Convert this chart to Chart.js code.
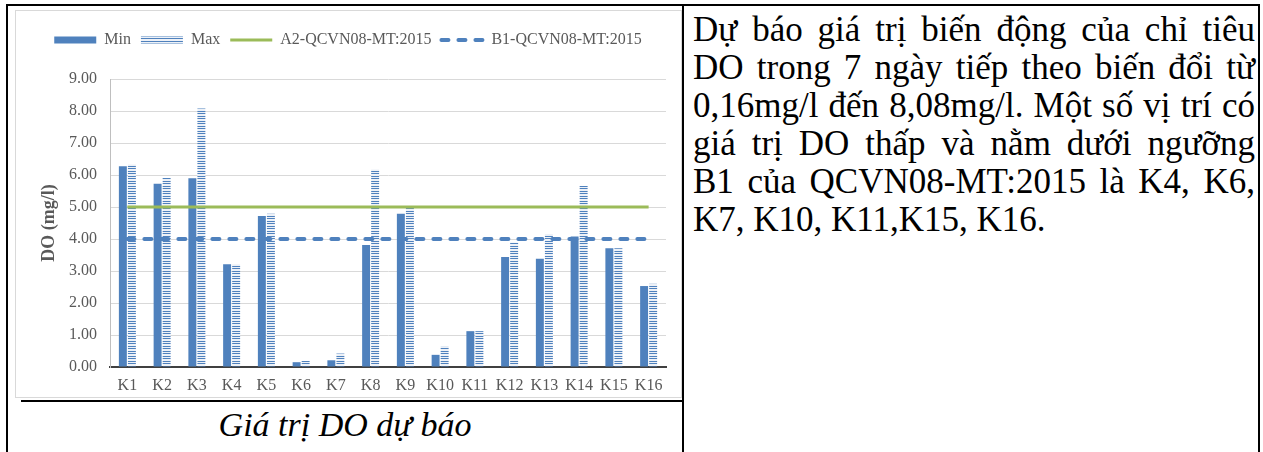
<!DOCTYPE html>
<html>
<head>
<meta charset="utf-8">
<script src="https://cdn.jsdelivr.net/npm/chart.js@4.4.1/dist/chart.umd.min.js"></script>
<style>
  html, body { margin: 0; padding: 0; background: #fff; }
  body { width: 1263px; height: 452px; position: relative; overflow: hidden; font-family: "Liberation Serif", "Times New Roman", serif; color: #000; }
  .rule { position: absolute; background: #000; z-index: 5; }
  #chartBox { position: absolute; left: 15px; top: 10px; width: 667px; height: 388px; border: 1px solid #d9d9d9; box-sizing: border-box; background: #fff; }
  #chartBox canvas { display: block; }
  #caption { position: absolute; left: 8px; width: 674px; top: 406px; font-size: 34px; line-height: 38px; font-style: italic; text-align: center; }
  #note { position: absolute; left: 693px; top: 11px; width: 562px; font-size: 35px; line-height: 38px; }
  #note div { text-align: justify; text-align-last: justify; white-space: nowrap; }
  #note div.last { text-align-last: left; }
</style>
</head>
<body>
<div class="rule" style="left:6px;top:4px;width:1254px;height:2px"></div>
<div class="rule" style="left:6px;top:4px;width:2px;height:448px"></div>
<div class="rule" style="left:682px;top:4px;width:2px;height:448px"></div>
<div class="rule" style="left:1258px;top:4px;width:2px;height:448px"></div>
<div class="rule" style="left:21px;top:400px;width:663px;height:2px"></div>

<div id="chartBox"><canvas id="myChart"></canvas></div>
<div id="caption">Giá trị DO dự báo</div>
<div id="note">
  <div>Dự báo giá trị biến động của chỉ tiêu</div>
  <div>DO trong 7 ngày tiếp theo biến đổi từ</div>
  <div>0,16mg/l đến 8,08mg/l. Một số vị trí có</div>
  <div>giá trị DO thấp và nằm dưới ngưỡng</div>
  <div>B1 của QCVN08-MT:2015 là K4, K6,</div>
  <div class="last">K7, K10, K11,K15, K16.</div>
</div>

<script>
// data
var sites = ['K1', 'K2', 'K3', 'K4', 'K5', 'K6', 'K7', 'K8', 'K9', 'K10', 'K11', 'K12', 'K13', 'K14', 'K15', 'K16'];
var doMin = [6.27, 5.73, 5.90, 3.21, 4.72, 0.15, 0.21, 3.81, 4.79, 0.38, 1.12, 3.44, 3.38, 4.08, 3.71, 2.53];
var doMax = [6.33, 5.91, 8.08, 3.21, 4.79, 0.19, 0.42, 6.17, 4.98, 0.63, 1.12, 3.89, 4.16, 5.66, 3.71, 2.60];
var limitA2 = [5, 5, 5, 5, 5, 5, 5, 5, 5, 5, 5, 5, 5, 5, 5, 5];
var limitB1 = [4, 4, 4, 4, 4, 4, 4, 4, 4, 4, 4, 4, 4, 4, 4, 4];
var yTicks = [0, 1, 2, 3, 4, 5, 6, 7, 8, 9];

var blue = '#4f81bd';
var green = '#9bbb59';
var grey = '#595959';
var serif = "'Liberation Serif', 'Times New Roman', serif";
var axisFont = { family: serif, size: 16 };

// horizontal stripes for the Max bars
function stripes() {
    var c = document.createElement('canvas');
    c.width = 4;
    c.height = 5;
    var g = c.getContext('2d');
    g.fillStyle = '#edf1f7';
    g.fillRect(0, 0, 4, 5);
    g.fillStyle = blue;
    g.fillRect(0, 0, 4, 1);
    g.fillRect(0, 2, 4, 1);
    return g.createPattern(c, 'repeat');
}

// extra room under the legend
var legendGap = {
    id: 'legendGap',
    beforeInit: function (chart) {
        var fit = chart.legend.fit;
        chart.legend.fit = function () {
            fit.call(this);
            this.height += 21;
        };
    }
};

var chartdata = {
    labels: sites,
    datasets: [
        {
            label: 'Min',
            data: doMin,
            backgroundColor: blue,
            borderWidth: 0,
            categoryPercentage: 0.52,
            barPercentage: 0.88,
            order: 2
        },
        {
            label: 'Max',
            data: doMax,
            backgroundColor: stripes(),
            borderWidth: 0,
            categoryPercentage: 0.52,
            barPercentage: 0.88,
            order: 2
        },
        {
            type: 'line',
            label: 'A2-QCVN08-MT:2015',
            data: limitA2,
            borderColor: green,
            backgroundColor: green,
            borderWidth: 3,
            pointRadius: 0,
            fill: false,
            order: 1
        },
        {
            type: 'line',
            label: 'B1-QCVN08-MT:2015',
            data: limitB1,
            borderColor: blue,
            backgroundColor: blue,
            borderWidth: 4,
            borderDash: [7, 10],
            borderCapStyle: 'round',
            pointRadius: 0,
            fill: false,
            order: 0
        }
    ]
};

new Chart(document.getElementById('myChart'), {
    type: 'bar',
    data: chartdata,
    plugins: [legendGap],
    options: {
        responsive: true,
        maintainAspectRatio: false,
        animation: false,
        layout: { padding: { left: 14, right: 15, top: 11, bottom: 0 } },
        plugins: {
            tooltip: { enabled: false },
            legend: {
                position: 'top',
                labels: {
                    usePointStyle: true,
                    pointStyleWidth: 42,
                    boxHeight: 7,
                    padding: 10,
                    color: grey,
                    font: { family: serif, size: 16 },
                    generateLabels: function (chart) {
                        return chart.data.datasets.map(function (ds, i) {
                            var isLine = ds.type === 'line';
                            return {
                                text: ds.label,
                                datasetIndex: i,
                                fillStyle: ds.backgroundColor,
                                strokeStyle: ds.borderColor || ds.backgroundColor,
                                lineWidth: isLine ? ds.borderWidth : 0,
                                lineDash: ds.borderDash || [],
                                lineCap: ds.borderCapStyle || 'butt',
                                pointStyle: isLine ? 'line' : 'rect',
                                fontColor: grey,
                                hidden: false
                            };
                        });
                    }
                }
            }
        },
        scales: {
            x: {
                grid: { display: false, drawTicks: false },
                border: { color: '#404040', width: 2 },
                ticks: { color: grey, font: axisFont, padding: 9, maxRotation: 0, autoSkip: false },
                afterFit: function (scale) { scale.height = 30; }
            },
            y: {
                min: 0,
                max: 9,
                afterBuildTicks: function (scale) {
                    scale.ticks = yTicks.map(function (v) { return { value: v }; });
                },
                grid: { color: '#d9d9d9', drawTicks: false },
                border: { color: '#bfbfbf', width: 1 },
                ticks: {
                    color: grey,
                    font: axisFont,
                    padding: 13,
                    callback: function (v) { return Number(v).toFixed(2); }
                },
                title: {
                    display: true,
                    text: 'DO (mg/l)',
                    color: grey,
                    font: { family: serif, size: 18, weight: 'bold' },
                    padding: { top: 9, bottom: 0 }
                },
                afterFit: function (scale) { scale.width = 80; }
            }
        }
    }
});
</script>
</body>
</html>
